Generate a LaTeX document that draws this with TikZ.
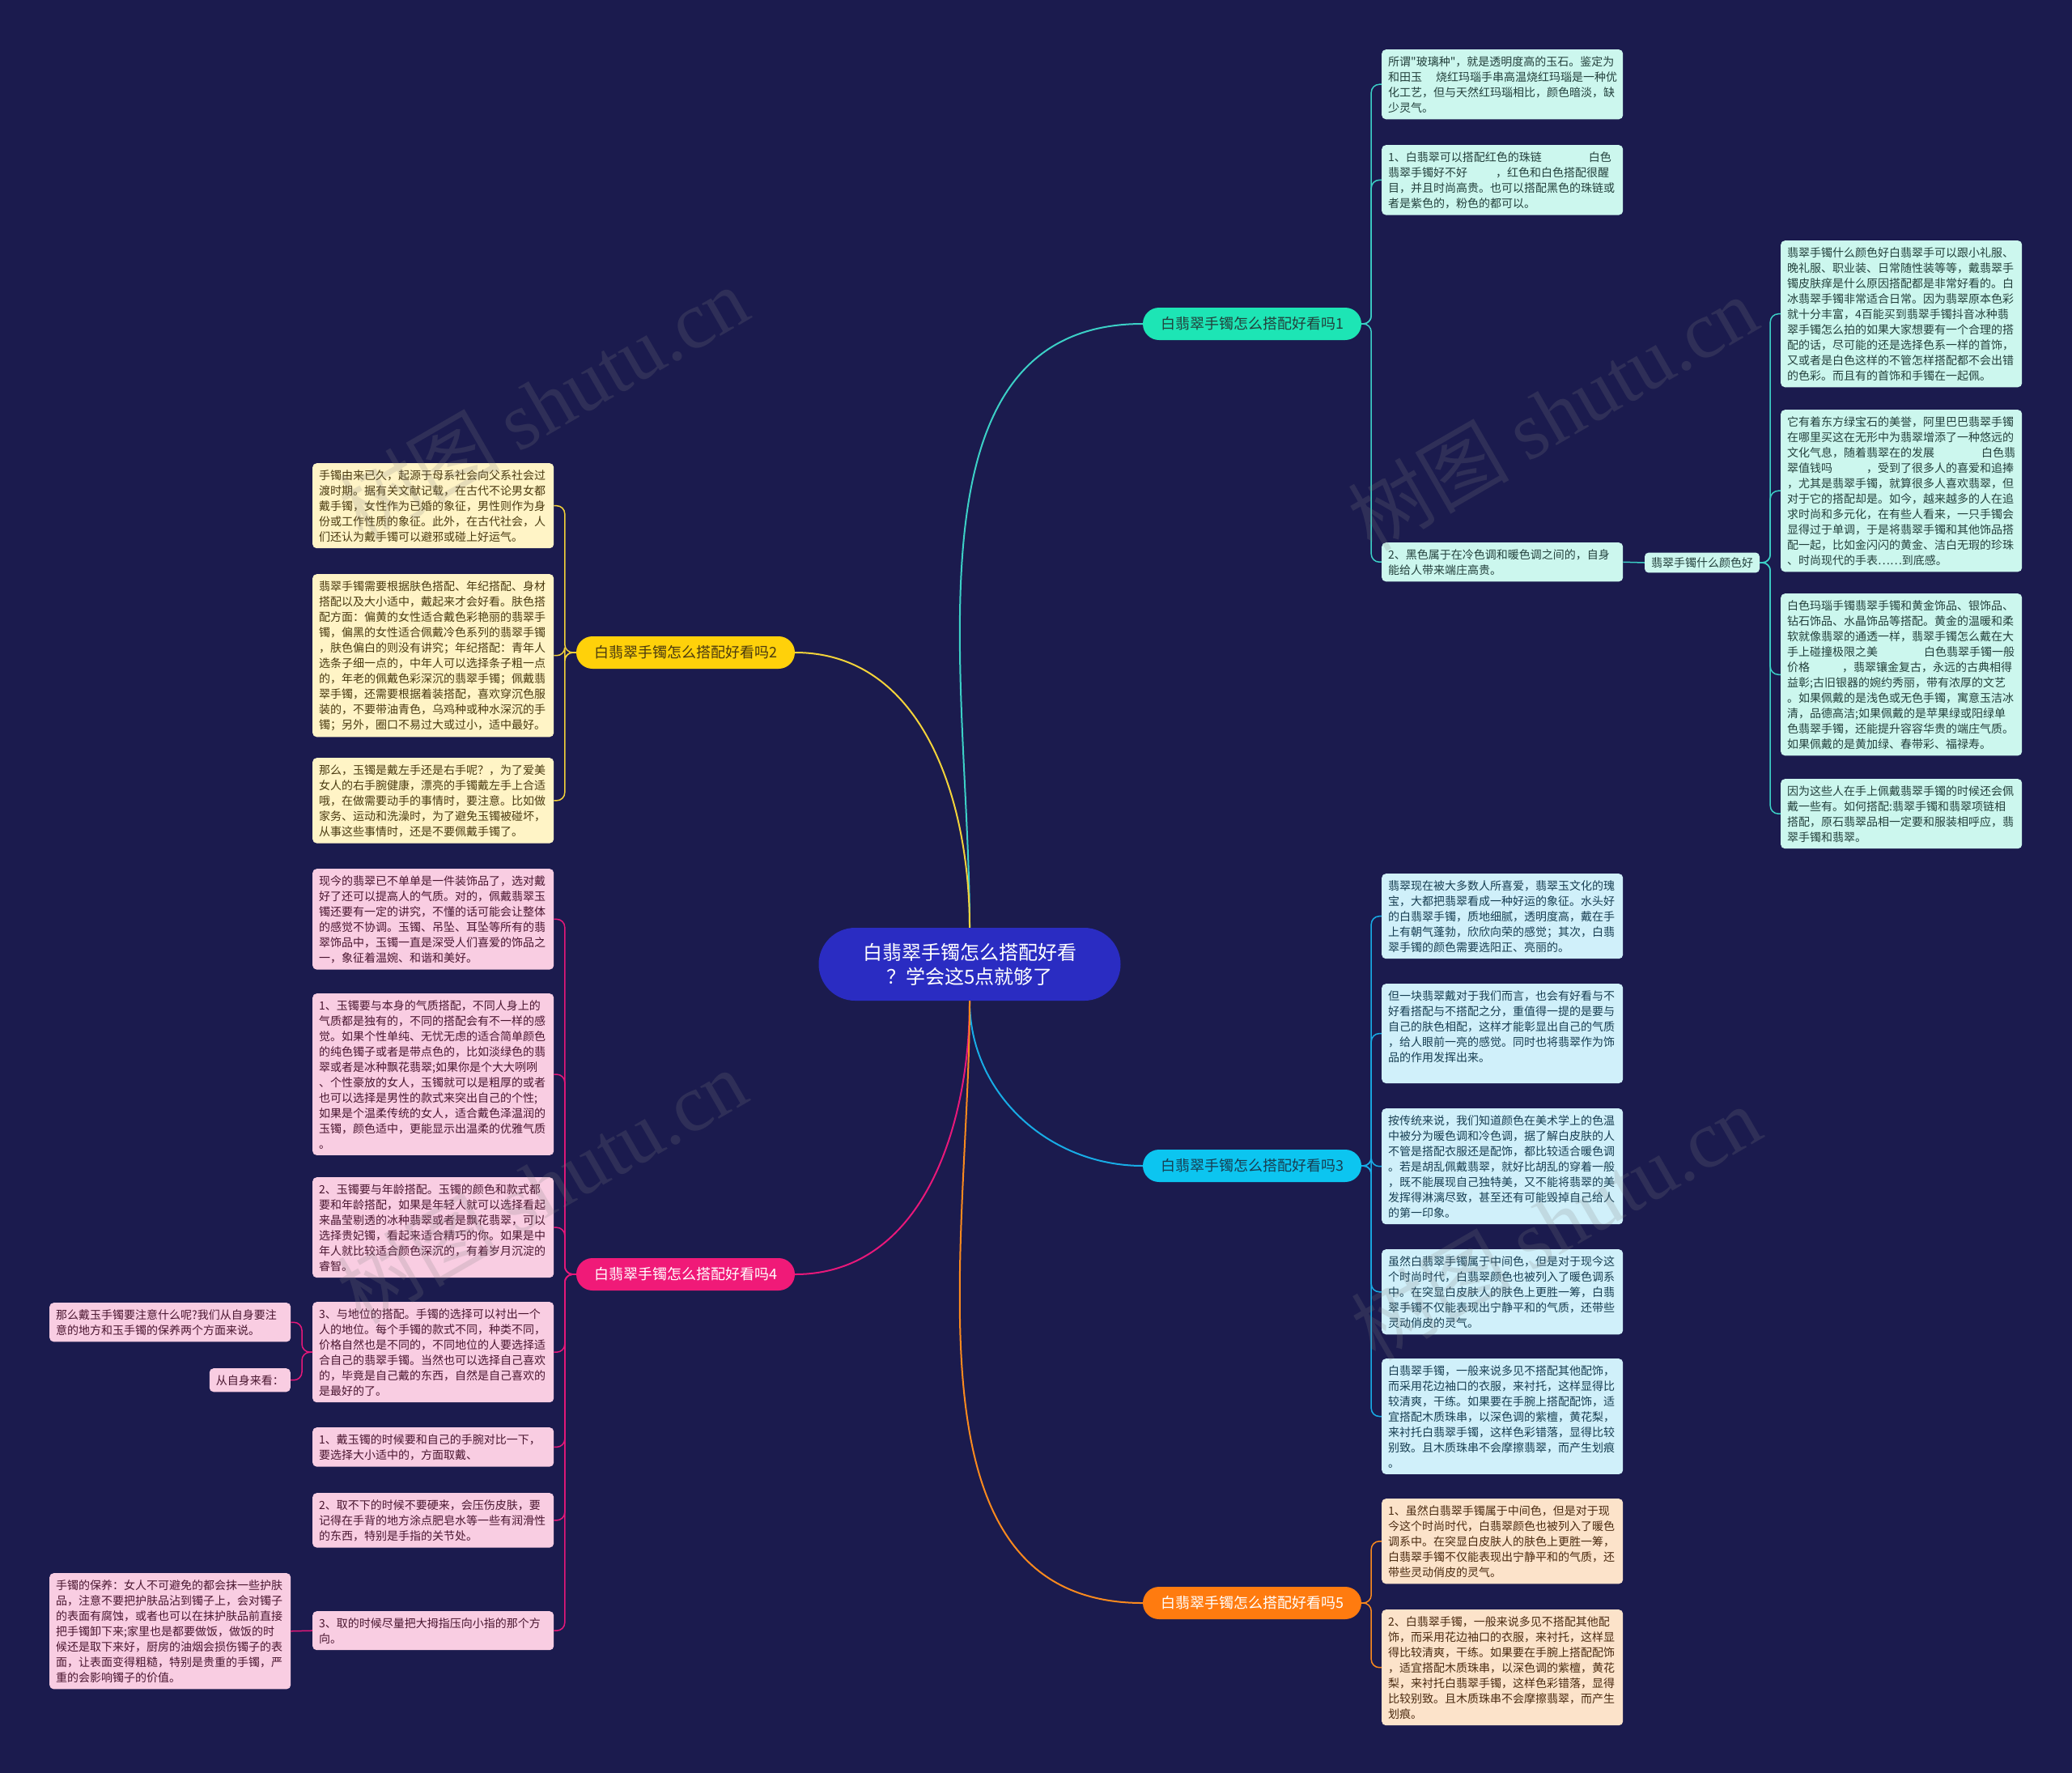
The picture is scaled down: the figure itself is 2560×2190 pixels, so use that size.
\documentclass[tikz,border=0pt]{standalone}
\usepackage{fontspec}
\usepackage{tikz}
\usetikzlibrary{positioning}
\newfontfamily\cjk{Noto Sans CJK SC}
\newfontfamily\wmserif{Liberation Serif}

\definecolor{navybg}{HTML}{1B1B4E}
\definecolor{rootblue}{HTML}{2A2CC2}
\definecolor{tealfill}{HTML}{1DE5B5}
\definecolor{tealline}{HTML}{3CD0C6}
\definecolor{tealbox}{HTML}{CCF7EE}
\definecolor{tealtext}{HTML}{23403C}
\definecolor{yelfill}{HTML}{FFD10A}
\definecolor{yelline}{HTML}{F3D33A}
\definecolor{yelbox}{HTML}{FFF4C6}
\definecolor{yeltext}{HTML}{4A3A10}
\definecolor{bluefill}{HTML}{0CC5F0}
\definecolor{blueline}{HTML}{18ACE6}
\definecolor{bluebox}{HTML}{D0F0FA}
\definecolor{bluetext}{HTML}{173E52}
\definecolor{pinkfill}{HTML}{F01A78}
\definecolor{pinkline}{HTML}{E8187A}
\definecolor{pinkbox}{HTML}{F9CDE2}
\definecolor{pinktext}{HTML}{4A1630}
\definecolor{orgfill}{HTML}{FF7B0F}
\definecolor{orgline}{HTML}{FB8A1E}
\definecolor{orgbox}{HTML}{FCE3CA}
\definecolor{orgtext}{HTML}{4A2A10}

\tikzset{
  leaf/.style={anchor=north west, rounded corners=5pt, text width=282pt,
    inner xsep=8pt, inner ysep=8pt, align=left, font=\cjk\fontsize{14}{19}\selectfont},
  tag/.style={rounded corners=5pt, inner xsep=8pt, inner ysep=8pt,
    font=\cjk\fontsize{14}{19}\selectfont},
  branch/.style={rounded corners=20pt, minimum width=270pt, minimum height=40pt,
    inner sep=0pt, font=\cjk\fontsize{18}{22}\selectfont},
  link/.style={line width=2pt},
  twig/.style={line width=1.5pt, rounded corners=10pt},
  wmark/.style={rotate=30, text=gray, opacity=0.2, font=\cjk\fontsize{100}{100}\selectfont}
}

\begin{document}
\begin{tikzpicture}[x=1pt,y=-1pt]
\fill[navybg] (0,0) rectangle (2560,2190);
\useasboundingbox (0,0) rectangle (2560,2190);

% centre and main branches
\node[fill=rootblue, text=white, rounded corners=45pt, minimum width=373pt, minimum height=90pt,
  align=center, font=\cjk\fontsize{24}{30}\selectfont] (root) at (1198,1191)
  {白翡翠手镯怎么搭配好看\\？学会这5点就够了};
\node[branch, fill=tealfill, text=tealtext] (br1) at (1547,400) {白翡翠手镯怎么搭配好看吗1};
\node[branch, fill=yelfill, text=yeltext] (br2) at (847,806) {白翡翠手镯怎么搭配好看吗2};
\node[branch, fill=bluefill, text=bluetext] (br3) at (1547,1440) {白翡翠手镯怎么搭配好看吗3};
\node[branch, fill=pinkfill, text=white] (br4) at (847,1574) {白翡翠手镯怎么搭配好看吗4};
\node[branch, fill=orgfill, text=white] (br5) at (1547,1980) {白翡翠手镯怎么搭配好看吗5};

\draw[link, tealline] (root.north) to[out=90, in=180] (br1.west);
\draw[link, yelline] (root.north) to[out=90, in=0] (br2.east);
\draw[link, blueline] (root.south) to[out=-90, in=180] (br3.west);
\draw[link, pinkline] (root.south) to[out=-90, in=0] (br4.east);
\draw[link, orgline] (root.south) to[out=-90, in=180] (br5.west);

% branch 1
\node[leaf, fill=tealbox, text=tealtext] (b1a) at (1707,61) {所谓"玻璃种"，就是透明度高的玉石。鉴定为\\和田玉\hspace*{17pt}烧红玛瑙手串高温烧红玛瑙是一种优\\化工艺，但与天然红玛瑙相比，颜色暗淡，缺\\少灵气。};
\node[leaf, fill=tealbox, text=tealtext] (b1b) at (1707,179) {1、白翡翠可以搭配红色的珠链\hspace*{58pt}白色\\翡翠手镯好不好\hspace*{35pt}，红色和白色搭配很醒\\目，并且时尚高贵。也可以搭配黑色的珠链或\\者是紫色的，粉色的都可以。};
\node[leaf, fill=tealbox, text=tealtext] (b1c) at (1707,670) {2、黑色属于在冷色调和暖色调之间的，自身\\能给人带来端庄高贵。};
\node[tag, fill=tealbox, text=tealtext, inner ysep=6pt] (sub1) at (2103,695) {翡翠手镯什么颜色好};
\node[leaf, fill=tealbox, text=tealtext] (r1) at (2200,297) {翡翠手镯什么颜色好白翡翠手可以跟小礼服、\\晚礼服、职业装、日常随性装等等，戴翡翠手\\镯皮肤痒是什么原因搭配都是非常好看的。白\\冰翡翠手镯非常适合日常。因为翡翠原本色彩\\就十分丰富，4百能买到翡翠手镯抖音冰种翡\\翠手镯怎么拍的如果大家想要有一个合理的搭\\配的话，尽可能的还是选择色系一样的首饰，\\又或者是白色这样的不管怎样搭配都不会出错\\的色彩。而且有的首饰和手镯在一起佩。};
\node[leaf, fill=tealbox, text=tealtext] (r2) at (2200,506) {它有着东方绿宝石的美誉，阿里巴巴翡翠手镯\\在哪里买这在无形中为翡翠增添了一种悠远的\\文化气息，随着翡翠在的发展\hspace*{58pt}白色翡\\翠值钱吗\hspace*{42pt}，受到了很多人的喜爱和追捧\\，尤其是翡翠手镯，就算很多人喜欢翡翠，但\\对于它的搭配却是。如今，越来越多的人在追\\求时尚和多元化，在有些人看来，一只手镯会\\显得过于单调，于是将翡翠手镯和其他饰品搭\\配一起，比如金闪闪的黄金、洁白无瑕的珍珠\\、时尚现代的手表……到底感。};
\node[leaf, fill=tealbox, text=tealtext] (r3) at (2200,733) {白色玛瑙手镯翡翠手镯和黄金饰品、银饰品、\\钻石饰品、水晶饰品等搭配。黄金的温暖和柔\\软就像翡翠的通透一样，翡翠手镯怎么戴在大\\手上碰撞极限之美\hspace*{57pt}白色翡翠手镯一般\\价格\hspace*{40pt}，翡翠镶金复古，永远的古典相得\\益彰;古旧银器的婉约秀丽，带有浓厚的文艺\\。如果佩戴的是浅色或无色手镯，寓意玉洁冰\\清，品德高洁;如果佩戴的是苹果绿或阳绿单\\色翡翠手镯，还能提升容容华贵的端庄气质。\\如果佩戴的是黄加绿、春带彩、福禄寿。};
\node[leaf, fill=tealbox, text=tealtext] (r4) at (2200,962) {因为这些人在手上佩戴翡翠手镯的时候还会佩\\戴一些有。如何搭配:翡翠手镯和翡翠项链相\\搭配，原石翡翠品相一定要和服装相呼应，翡\\翠手镯和翡翠。};
\foreach \c in {b1a,b1b,b1c}
  \draw[twig, tealline] (br1.east) -- ++(12,0) |- (\c.west);
\draw[twig, tealline] (b1c.east) -- (sub1.west);
\foreach \c in {r1,r2,r3,r4}
  \draw[twig, tealline] (sub1.east) -- ++(13,0) |- (\c.west);

% branch 2
\node[leaf, fill=yelbox, text=yeltext] (l1) at (386,572) {手镯由来已久，起源于母系社会向父系社会过\\渡时期。据有关文献记载，在古代不论男女都\\戴手镯，女性作为已婚的象征，男性则作为身\\份或工作性质的象征。此外，在古代社会，人\\们还认为戴手镯可以避邪或碰上好运气。};
\node[leaf, fill=yelbox, text=yeltext] (l2) at (386,709) {翡翠手镯需要根据肤色搭配、年纪搭配、身材\\搭配以及大小适中，戴起来才会好看。肤色搭\\配方面：偏黄的女性适合戴色彩艳丽的翡翠手\\镯，偏黑的女性适合佩戴冷色系列的翡翠手镯\\，肤色偏白的则没有讲究；年纪搭配：青年人\\选条子细一点的，中年人可以选择条子粗一点\\的，年老的佩戴色彩深沉的翡翠手镯；佩戴翡\\翠手镯，还需要根据着装搭配，喜欢穿沉色服\\装的，不要带油青色，乌鸡种或种水深沉的手\\镯；另外，圈口不易过大或过小，适中最好。};
\node[leaf, fill=yelbox, text=yeltext] (l3) at (386,936) {那么，玉镯是戴左手还是右手呢？，为了爱美\\女人的右手腕健康，漂亮的手镯戴左手上合适\\哦，在做需要动手的事情时，要注意。比如做\\家务、运动和洗澡时，为了避免玉镯被碰坏，\\从事这些事情时，还是不要佩戴手镯了。};
\foreach \c in {l1,l2,l3}
  \draw[twig, yelline] (br2.west) -- ++(-14,0) |- (\c.east);

% branch 3
\node[leaf, fill=bluebox, text=bluetext] (m1) at (1707,1079) {翡翠现在被大多数人所喜爱，翡翠玉文化的瑰\\宝，大都把翡翠看成一种好运的象征。水头好\\的白翡翠手镯，质地细腻，透明度高，戴在手\\上有朝气蓬勃，欣欣向荣的感觉；其次，白翡\\翠手镯的颜色需要选阳正、亮丽的。};
\node[leaf, fill=bluebox, text=bluetext] (m2) at (1707,1215) {但一块翡翠戴对于我们而言，也会有好看与不\\好看搭配与不搭配之分，重值得一提的是要与\\自己的肤色相配，这样才能彰显出自己的气质\\，给人眼前一亮的感觉。同时也将翡翠作为饰\\品的作用发挥出来。\\\mbox{}};
\node[leaf, fill=bluebox, text=bluetext] (m3) at (1707,1369) {按传统来说，我们知道颜色在美术学上的色温\\中被分为暖色调和冷色调，据了解白皮肤的人\\不管是搭配衣服还是配饰，都比较适合暖色调\\。若是胡乱佩戴翡翠，就好比胡乱的穿着一般\\，既不能展现自己独特美，又不能将翡翠的美\\发挥得淋漓尽致，甚至还有可能毁掉自己给人\\的第一印象。};
\node[leaf, fill=bluebox, text=bluetext] (m4) at (1707,1543) {虽然白翡翠手镯属于中间色，但是对于现今这\\个时尚时代，白翡翠颜色也被列入了暖色调系\\中。在突显白皮肤人的肤色上更胜一筹，白翡\\翠手镯不仅能表现出宁静平和的气质，还带些\\灵动俏皮的灵气。};
\node[leaf, fill=bluebox, text=bluetext] (m5) at (1707,1678) {白翡翠手镯，一般来说多见不搭配其他配饰，\\而采用花边袖口的衣服，来衬托，这样显得比\\较清爽，干练。如果要在手腕上搭配配饰，适\\宜搭配木质珠串，以深色调的紫檀，黄花梨，\\来衬托白翡翠手镯，这样色彩错落，显得比较\\别致。且木质珠串不会摩擦翡翠，而产生划痕\\。};
\foreach \c in {m1,m2,m3,m4,m5}
  \draw[twig, blueline] (br3.east) -- ++(12,0) |- (\c.west);

% branch 4
\node[leaf, fill=pinkbox, text=pinktext] (p1) at (386,1073) {现今的翡翠已不单单是一件装饰品了，选对戴\\好了还可以提高人的气质。对的，佩戴翡翠玉\\镯还要有一定的讲究，不懂的话可能会让整体\\的感觉不协调。玉镯、吊坠、耳坠等所有的翡\\翠饰品中，玉镯一直是深受人们喜爱的饰品之\\一，象征着温婉、和谐和美好。};
\node[leaf, fill=pinkbox, text=pinktext] (p2) at (386,1227) {1、玉镯要与本身的气质搭配，不同人身上的\\气质都是独有的，不同的搭配会有不一样的感\\觉。如果个性单纯、无忧无虑的适合简单颜色\\的纯色镯子或者是带点色的，比如淡绿色的翡\\翠或者是冰种飘花翡翠;如果你是个大大咧咧\\、个性豪放的女人，玉镯就可以是粗厚的或者\\也可以选择是男性的款式来突出自己的个性;\\如果是个温柔传统的女人，适合戴色泽温润的\\玉镯，颜色适中，更能显示出温柔的优雅气质\\。};
\node[leaf, fill=pinkbox, text=pinktext] (p3) at (386,1454) {2、玉镯要与年龄搭配。玉镯的颜色和款式都\\要和年龄搭配，如果是年轻人就可以选择看起\\来晶莹剔透的冰种翡翠或者是飘花翡翠，可以\\选择贵妃镯，看起来适合精巧的你。如果是中\\年人就比较适合颜色深沉的，有着岁月沉淀的\\睿智。};
\node[leaf, fill=pinkbox, text=pinktext] (p4) at (386,1608) {3、与地位的搭配。手镯的选择可以衬出一个\\人的地位。每个手镯的款式不同，种类不同，\\价格自然也是不同的，不同地位的人要选择适\\合自己的翡翠手镯。当然也可以选择自己喜欢\\的，毕竟是自己戴的东西，自然是自己喜欢的\\是最好的了。};
\node[leaf, fill=pinkbox, text=pinktext] (p5) at (386,1763) {1、戴玉镯的时候要和自己的手腕对比一下，\\要选择大小适中的，方面取戴、};
\node[leaf, fill=pinkbox, text=pinktext] (p6) at (386,1844) {2、取不下的时候不要硬来，会压伤皮肤，要\\记得在手背的地方涂点肥皂水等一些有润滑性\\的东西，特别是手指的关节处。};
\node[leaf, fill=pinkbox, text=pinktext] (p7) at (386,1990) {3、取的时候尽量把大拇指压向小指的那个方\\向。};
\node[leaf, fill=pinkbox, text=pinktext] (q1) at (61,1609) {那么戴玉手镯要注意什么呢?我们从自身要注\\意的地方和玉手镯的保养两个方面来说。};
\node[tag, fill=pinkbox, text=pinktext, anchor=north east] (q2) at (359,1690) {从自身来看：};
\node[leaf, fill=pinkbox, text=pinktext] (q3) at (61,1943) {手镯的保养：女人不可避免的都会抹一些护肤\\品，注意不要把护肤品沾到镯子上，会对镯子\\的表面有腐蚀，或者也可以在抹护肤品前直接\\把手镯卸下来;家里也是都要做饭，做饭的时\\候还是取下来好，厨房的油烟会损伤镯子的表\\面，让表面变得粗糙，特别是贵重的手镯，严\\重的会影响镯子的价值。};
\foreach \c in {p1,p2,p3,p4,p5,p6,p7}
  \draw[twig, pinkline] (br4.west) -- ++(-14,0) |- (\c.east);
\foreach \c in {q1,q2}
  \draw[twig, pinkline] (p4.west) -- ++(-13,0) |- (\c.east);
\draw[twig, pinkline] (p7.west) -- (q3.east);

% branch 5
\node[leaf, fill=orgbox, text=orgtext] (o1) at (1707,1851) {1、虽然白翡翠手镯属于中间色，但是对于现\\今这个时尚时代，白翡翠颜色也被列入了暖色\\调系中。在突显白皮肤人的肤色上更胜一筹，\\白翡翠手镯不仅能表现出宁静平和的气质，还\\带些灵动俏皮的灵气。};
\node[leaf, fill=orgbox, text=orgtext] (o2) at (1707,1988) {2、白翡翠手镯，一般来说多见不搭配其他配\\饰，而采用花边袖口的衣服，来衬托，这样显\\得比较清爽，干练。如果要在手腕上搭配配饰\\，适宜搭配木质珠串，以深色调的紫檀，黄花\\梨，来衬托白翡翠手镯，这样色彩错落，显得\\比较别致。且木质珠串不会摩擦翡翠，而产生\\划痕。};
\foreach \c in {o1,o2}
  \draw[twig, orgline] (br5.east) -- ++(12,0) |- (\c.west);

% watermarks
\foreach \wx/\wy in {671/498, 1918/510, 669/1465, 1922/1510}
  \node[wmark] at (\wx,\wy) {树图 {\wmserif shutu.cn}};
\end{tikzpicture}
\end{document}
